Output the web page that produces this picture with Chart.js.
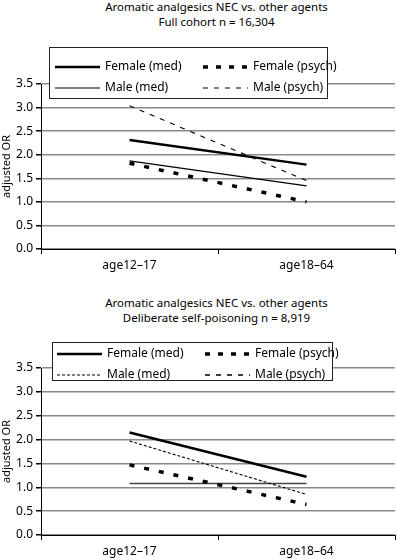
<!DOCTYPE html>
<html>
<head>
<meta charset="utf-8">
<script src="https://cdn.jsdelivr.net/npm/chart.js@4.4.1/dist/chart.umd.min.js"></script>
<style>
  body { margin: 0; background: #fff; font-family: "Noto Sans", sans-serif; }
  .panel { position: relative; width: 397px; height: 280px; }
  .ttl { position: absolute; left: 36px; width: 361px; text-align: center; font-size: 11.5px; line-height: 15px; color: #000; }
  canvas { position: absolute; left: 0; top: 0; }
</style>
</head>
<body>
<div class="panel">
  <div class="ttl" style="top:-1px">Aromatic analgesics NEC vs. other agents<br>Full cohort n = 16,304</div>
  <canvas id="chart1" width="397" height="280"></canvas>
</div>
<div class="panel">
  <div class="ttl" style="top:15px">Aromatic analgesics NEC vs. other agents<br>Deliberate self-poisoning n = 8,919</div>
  <canvas id="chart2" width="397" height="280"></canvas>
</div>
<script>
var ageGroups = ['age12\u201317', 'age18\u201364'];
var seriesNames = ['Female (med)', 'Female (psych)', 'Male (med)', 'Male (psych)'];

// full cohort
var fullFemaleMed = [2.31, 1.79];
var fullFemalePsych = [1.82, 1.00];
var fullMaleMed = [1.87, 1.34];
var fullMalePsych = [3.04, 1.45];

// deliberate self-poisoning
var dspFemaleMed = [2.15, 1.22];
var dspFemalePsych = [1.47, 0.64];
var dspMaleMed = [1.97, 0.85];
var dspMalePsych = [1.08, 1.08];

// legend drawn as a box over the top of the plot
var boxLegend = {
	id: 'boxLegend',
	afterDraw: function(chart, args, opts) {
		var ctx = chart.ctx;
		var b = opts.box;
		ctx.save();
		ctx.fillStyle = '#fff';
		ctx.fillRect(b.x, b.y, b.w, b.h);
		ctx.strokeStyle = '#222';
		ctx.lineWidth = 1;
		ctx.strokeRect(b.x + 0.5, b.y + 0.5, b.w, b.h);
		ctx.font = '12px "Noto Sans"';
		ctx.textBaseline = 'middle';
		ctx.fillStyle = '#000';
		chart.data.datasets.forEach(function(ds, i) {
			var col = i % 2, row = Math.floor(i / 2);
			var y = opts.rows[row];
			var x0 = opts.cols[col];
			ctx.beginPath();
			ctx.lineWidth = ds.borderWidth;
			ctx.strokeStyle = '#000';
			ctx.setLineDash(ds.legendDash || ds.borderDash || []);
			ctx.moveTo(x0, y);
			ctx.lineTo(x0 + opts.sampleW, y);
			ctx.stroke();
			ctx.setLineDash([]);
			ctx.fillText(ds.label, x0 + opts.sampleW + opts.gap, y);
		});
		ctx.restore();
	}
};

function makeChart(id, values, styles, layout) {
	var datasets = [];
	for (var i = 0; i < seriesNames.length; i++) {
		datasets.push({
			label: seriesNames[i],
			data: values[i],
			borderColor: styles[i].color,
			borderWidth: styles[i].width,
			borderDash: styles[i].dash,
			legendDash: styles[i].legendDash,
			pointRadius: 0,
			fill: false,
			tension: 0
		});
	}
	return new Chart(document.getElementById(id), {
		type: 'line',
		data: { labels: ageGroups, datasets: datasets },
		plugins: [boxLegend],
		options: {
			responsive: false,
			animation: false,
			layout: { padding: { top: layout.top, right: 2, left: 0, bottom: 0 } },
			plugins: {
				legend: { display: false },
				tooltip: { enabled: false },
				boxLegend: layout.legend
			},
			scales: {
				x: {
					offset: true,
					grid: { offset: true, drawOnChartArea: false, tickLength: 5, tickColor: '#000' },
					border: { color: '#000', width: 1 },
					ticks: { color: '#000', font: { family: 'Noto Sans', size: 12 }, padding: 4, maxRotation: 0 },
					afterFit: function(s) { s.height = layout.xh; }
				},
				y: {
					min: 0,
					max: 3.5,
					ticks: {
						stepSize: 0.5,
						color: '#000',
						padding: 3,
						font: { family: 'Noto Sans', size: 12 },
						callback: function(v) { return v.toFixed(1); }
					},
					grid: { color: '#8a8a8a', lineWidth: 1.5, tickLength: 5, tickColor: '#000' },
					border: { color: '#000', width: 1 },
					title: { display: true, text: 'adjusted OR', color: '#000', font: { family: 'Noto Sans', size: 11 }, padding: 0 },
					afterFit: function(s) { s.width = 41; }
				}
			}
		}
	});
}

var solidThick = { color: '#000', width: 2.5, dash: [] };
var dashThick = { color: '#000', width: 3.5, dash: [5, 10], legendDash: [5, 8] };

makeChart('chart1',
	[fullFemaleMed, fullFemalePsych, fullMaleMed, fullMalePsych],
	[solidThick, dashThick,
	 { color: '#000', width: 1.2, dash: [] },
	 { color: '#000', width: 1.1, dash: [5, 6] }],
	{ top: 84, xh: 31,
	  legend: { box: { x: 49, y: 47, w: 278, h: 51 }, rows: [67, 88], cols: [55, 203], sampleW: 45, gap: 5 } });

makeChart('chart2',
	[dspFemaleMed, dspFemalePsych, dspMaleMed, dspMalePsych],
	[solidThick, dashThick,
	 { color: '#000', width: 1.1, dash: [3, 2] },
	 { color: '#444', width: 1.6, dash: [], legendDash: [5, 6] }],
	{ top: 88, xh: 25,
	  legend: { box: { x: 52, y: 62, w: 280, h: 38 }, rows: [74, 95], cols: [57, 205], sampleW: 45, gap: 5 } });
</script>
</body>
</html>
